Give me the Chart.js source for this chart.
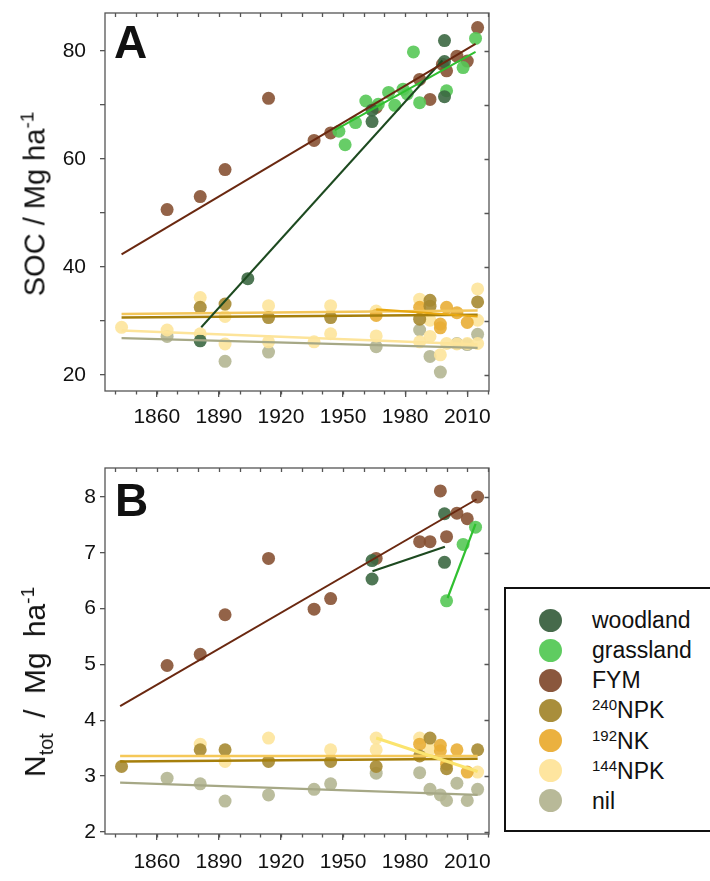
<!DOCTYPE html>
<html><head><meta charset="utf-8">
<script src="https://cdn.jsdelivr.net/npm/chart.js@4.4.1/dist/chart.umd.min.js"></script>
<style>
body{margin:0;background:#fff;width:710px;height:881px;overflow:hidden;position:relative;font-family:"Liberation Sans",Arial,sans-serif;color:#111;}
canvas{position:absolute;left:0;}
#cA{top:0;} #cB{top:440px;}
.ytitle{position:absolute;transform:translate(-50%,-50%) rotate(-90deg);white-space:nowrap;font-size:29px;line-height:1;}
.ytitle sup{font-size:19px;vertical-align:11px;line-height:0;}
.ytitle sub{font-size:20px;vertical-align:-8px;line-height:0;}
#tB{word-spacing:7px;font-size:30px;}
.panel{position:absolute;font-weight:bold;font-size:46px;line-height:1;}
#legend{position:absolute;left:504px;top:587px;width:230px;height:245px;border:2px solid #111;box-sizing:border-box;}
.li{position:absolute;left:0;height:30px;line-height:30px;font-size:23px;width:220px;}
.dot{position:absolute;width:23px;height:23px;border-radius:50%;left:33px;top:3.5px;}
.lt{position:absolute;left:86px;white-space:nowrap;}
.lt sup{font-size:15px;vertical-align:8px;line-height:0;}
</style>
</head><body>
<canvas id="cA" width="500" height="440"></canvas>
<canvas id="cB" width="500" height="441"></canvas>
<div class="panel" style="left:114px;top:19px;">A</div>
<div class="panel" style="left:115px;top:477px;">B</div>
<div class="ytitle" style="left:35px;top:204px;">SOC / Mg ha<sup>-1</sup></div>
<div class="ytitle" id="tB" style="left:35px;top:682px;">N<sub>tot</sub> / Mg ha<sup>-1</sup></div>
<div id="legend"></div>
<script>
// ---------- tick values ----------
const xMajorTicks = [1860, 1890, 1920, 1950, 1980, 2010];
const xMinorTicks = [1840, 1850, 1860, 1870, 1880, 1890, 1900, 1910, 1920, 1930, 1940, 1950, 1960, 1970, 1980, 1990, 2000, 2010, 2020];
const yTicksA = [20, 30, 40, 50, 60, 70, 80];
const yLabelsA = [20, 40, 60, 80];
const yTicksB = [2, 3, 4, 5, 6, 7, 8];

// ---------- legend ----------
const legendSup = ['', '', '', '240', '192', '144', ''];
const legendText = ['woodland', 'grassland', 'FYM', 'NPK', 'NK', 'NPK', 'nil'];
const legendColors = ['#466a4b', '#5fcc60', '#8a573d', '#a98e3b', '#ebb13f', '#fee59f', '#b8b998'];
const pointColors = ['rgba(60,104,66,0.9)', 'rgba(86,200,86,0.9)', 'rgba(135,82,52,0.9)', 'rgba(166,138,50,0.9)', 'rgba(233,174,54,0.9)', 'rgba(253,228,155,0.9)', 'rgba(180,182,146,0.9)'];

// ---------- Panel A : SOC (Mg/ha) ----------
const woodlandA_year = [1881, 1904, 1964, 1964, 1999, 1999, 1999];
const woodlandA_val  = [26.3, 37.8, 66.9, 69.0, 71.5, 78.0, 81.9];
const grasslandA_year = [1948, 1951, 1956, 1961, 1967, 1972, 1975, 1979, 1981, 1984, 1987, 2000, 2008, 2014];
const grasslandA_val  = [65.1, 62.6, 66.7, 70.7, 70.1, 72.3, 69.9, 72.9, 72.0, 79.8, 70.4, 72.6, 76.9, 82.3];
const fymA_year = [1865, 1881, 1893, 1914, 1936, 1944, 1966, 1987, 1992, 1998, 2000, 2005, 2010, 2015];
const fymA_val  = [50.6, 53.0, 58.0, 71.2, 63.4, 64.8, 69.5, 74.7, 71.0, 77.5, 76.3, 79.0, 78.1, 84.3];
const npk240A_year = [1881, 1893, 1914, 1944, 1987, 1992, 1992, 2015];
const npk240A_val  = [32.5, 33.1, 30.6, 30.6, 30.3, 33.8, 32.7, 33.5];
const nk192A_year = [1966, 1987, 1997, 1997, 2000, 2005, 2010];
const nk192A_val  = [31.0, 32.5, 29.4, 28.7, 32.5, 31.5, 29.7];
const npk144A_year = [1843, 1865, 1881, 1881, 1893, 1893, 1914, 1914, 1936, 1944, 1944, 1966, 1966, 1987, 1987, 1992, 1992, 1997, 2000, 2005, 2010, 2015, 2015, 2015];
const npk144A_val  = [28.8, 28.3, 34.3, 27.6, 30.8, 25.7, 32.8, 26.1, 26.1, 32.8, 27.6, 31.8, 27.2, 34.0, 26.1, 30.1, 27.1, 23.7, 25.8, 25.7, 25.8, 35.9, 30.1, 25.8];
const nilA_year = [1865, 1893, 1914, 1966, 1987, 1992, 1997, 2005, 2010, 2015];
const nilA_val  = [27.1, 22.5, 24.2, 25.2, 28.3, 23.4, 20.5, 25.8, 25.6, 27.5];

// regression lines A (start, end)
const fymLineA_year = [1843, 2014];      const fymLineA_val = [42.3, 81.3];
const woodLineA_year = [1881.5, 1998];   const woodLineA_val = [28.8, 78.2];
const grassLineA_year = [1946, 2014];    const grassLineA_val = [65.3, 79.8];
const npk240LineA_year = [1843, 2015];   const npk240LineA_val = [30.6, 31.1];
const nk192LineA_year = [1843, 2015];    const nk192LineA_val = [31.25, 31.9];
const shortLineA_year = [1966, 2015];    const shortLineA_val = [32.1, 30.8];
const npk144LineA_year = [1843, 2015];   const npk144LineA_val = [28.2, 25.6];
const nilLineA_year = [1843, 2015];      const nilLineA_val = [26.8, 25.0];

// ---------- Panel B : N tot (Mg/ha) ----------
const woodlandB_year = [1964, 1964, 1999, 1999];
const woodlandB_val  = [6.86, 6.53, 7.70, 6.83];
const grasslandB_year = [2000, 2008, 2014];
const grasslandB_val  = [6.14, 7.15, 7.46];
const fymB_year = [1865, 1881, 1893, 1914, 1936, 1944, 1966, 1987, 1992, 1997, 2000, 2005, 2010, 2015];
const fymB_val  = [4.98, 5.18, 5.89, 6.90, 5.99, 6.18, 6.90, 7.20, 7.20, 8.11, 7.29, 7.71, 7.61, 8.00];
const npk240B_year = [1843, 1881, 1893, 1914, 1944, 1966, 1987, 1992, 2000, 2015];
const npk240B_val  = [3.17, 3.47, 3.47, 3.26, 3.26, 3.17, 3.36, 3.68, 3.13, 3.47];
const nk192B_year = [1987, 1997, 1997, 2000, 2005, 2010];
const nk192B_val  = [3.57, 3.55, 3.45, 3.21, 3.47, 3.07];
const npk144B_year = [1881, 1893, 1914, 1944, 1966, 1966, 1987, 1992, 2000, 2015];
const npk144B_val  = [3.57, 3.26, 3.68, 3.47, 3.68, 3.47, 3.68, 3.48, 3.26, 3.07];
const nilB_year = [1865, 1881, 1893, 1914, 1936, 1944, 1966, 1987, 1992, 1997, 2000, 2005, 2010, 2015];
const nilB_val  = [2.96, 2.86, 2.55, 2.66, 2.76, 2.86, 3.05, 3.06, 2.76, 2.66, 2.56, 2.87, 2.56, 2.76];

const fymLineB_year = [1842.3, 2014.5];  const fymLineB_val = [4.25, 7.96];
const woodLineB_year = [1964.2, 1999.2]; const woodLineB_val = [6.67, 7.11];
const grassLineB_year = [2000.5, 2014];  const grassLineB_val = [6.19, 7.52];
const npk240LineB_year = [1842.3, 2015]; const npk240LineB_val = [3.26, 3.31];
const nk192LineB_year = [1842.3, 2015];  const nk192LineB_val = [3.36, 3.36];
const shortLineB_year = [1966, 2015];    const shortLineB_val = [3.68, 3.08];
const nilLineB_year = [1842.3, 2015];    const nilLineB_val = [2.88, 2.66];

// ---------- helpers ----------
const pts = (xs, ys) => xs.map((x, i) => ({x: x, y: ys[i]}));
const scat = (xs, ys, ci) => ({type: 'scatter', data: pts(xs, ys), backgroundColor: pointColors[ci], borderWidth: 0, pointRadius: 6.5, order: 2});
const line = (xs, ys, color, w) => ({type: 'line', data: pts(xs, ys), borderColor: color, borderWidth: w, pointRadius: 0, fill: false, order: 1});

// legend
const lg = document.getElementById('legend');
legendText.forEach((t, i) => {
  const row = document.createElement('div');
  row.className = 'li';
  row.style.top = (16 + i * 30.15) + 'px';
  row.innerHTML = '<span class="dot" style="background:' + legendColors[i] + '"></span><span class="lt">' + (legendSup[i] ? '<sup>' + legendSup[i] + '</sup>' : '') + t + '</span>';
  lg.appendChild(row);
});

const FRAME = '#555';
const framePlugin = {
  id: 'frame',
  afterDraw(chart) {
    const {ctx, chartArea: a, scales} = chart;
    const xs = scales.x, ys = scales.y;
    ctx.save();
    ctx.strokeStyle = FRAME;
    ctx.lineWidth = 1.3;
    ctx.strokeRect(a.left, a.top, a.right - a.left, a.bottom - a.top);
    ctx.beginPath();
    xMinorTicks.forEach(v => {
      const px = Math.round(xs.getPixelForValue(v)) + 0.5;
      ctx.moveTo(px, a.bottom); ctx.lineTo(px, a.bottom + 3.5);
      ctx.moveTo(px, a.top); ctx.lineTo(px, a.top + 4);
    });
    ys.ticks.forEach(t => {
      const py = Math.round(ys.getPixelForValue(t.value)) + 0.5;
      ctx.moveTo(a.right, py); ctx.lineTo(a.right - 4.5, py);
    });
    ctx.stroke();
    ctx.restore();
  }
};

const FONT = {family: '"Liberation Sans", Arial, sans-serif', size: 21};

function makeChart(id, datasets, yMin, yMax, yTicks, yLabelFn, yPad, padTop, xHeight, xPad) {
  return new Chart(document.getElementById(id), {
    data: {datasets: datasets},
    options: {
      responsive: false, animation: false, events: [],
      layout: {padding: {left: 0, right: 11, top: padTop, bottom: 0}},
      plugins: {legend: {display: false}, tooltip: {enabled: false}},
      scales: {
        x: {
          type: 'linear', min: 1835, max: 2020.5,
          border: {display: false},
          grid: {drawOnChartArea: false, drawTicks: true, tickLength: 6, color: FRAME, tickColor: FRAME, lineWidth: 1.3},
          ticks: {color: '#111', font: FONT, padding: xPad, maxRotation: 0, autoSkip: false, callback: v => String(v)},
          afterBuildTicks: s => { s.ticks = xMajorTicks.map(v => ({value: v})); },
          afterFit: s => { s.height = xHeight; s.paddingLeft = 0; s.paddingRight = 0; }
        },
        y: {
          type: 'linear', min: yMin, max: yMax,
          border: {display: false},
          grid: {drawOnChartArea: false, drawTicks: true, tickLength: 5, color: FRAME, tickColor: FRAME, lineWidth: 1.3},
          ticks: {color: '#111', font: FONT, padding: yPad, autoSkip: false, callback: yLabelFn},
          afterBuildTicks: s => { s.ticks = yTicks.map(v => ({value: v})); },
          afterFit: s => { s.width = 105; s.paddingTop = 0; s.paddingBottom = 0; }
        }
      }
    },
    plugins: [framePlugin]
  });
}

const dsA = [
  line(fymLineA_year, fymLineA_val, '#6a2810', 2),
  line(woodLineA_year, woodLineA_val, '#1d4a20', 2),
  line(grassLineA_year, grassLineA_val, '#30c030', 2),
  line(shortLineA_year, shortLineA_val, '#e8a810', 2.2),
  line(nk192LineA_year, nk192LineA_val, '#f3c65a', 2.5),
  line(npk240LineA_year, npk240LineA_val, '#a67f0c', 2.5),
  line(npk144LineA_year, npk144LineA_val, '#fde49a', 2.5),
  line(nilLineA_year, nilLineA_val, '#a6a886', 2.2),
  scat(woodlandA_year, woodlandA_val, 0),
  scat(grasslandA_year, grasslandA_val, 1),
  scat(fymA_year, fymA_val, 2),
  scat(npk240A_year, npk240A_val, 3),
  scat(nk192A_year, nk192A_val, 4),
  scat(npk144A_year, npk144A_val, 5),
  scat(nilA_year, nilA_val, 6)
];
const dsB = [
  line(fymLineB_year, fymLineB_val, '#6a2810', 2),
  line(woodLineB_year, woodLineB_val, '#1d4a20', 2.2),
  line(grassLineB_year, grassLineB_val, '#30c030', 2.2),
  line(shortLineB_year, shortLineB_val, '#fbe46e', 3),
  line(nk192LineB_year, nk192LineB_val, '#f5c858', 2.5),
  line(npk240LineB_year, npk240LineB_val, '#a67f0c', 2.5),
  line(nilLineB_year, nilLineB_val, '#a6a886', 2.2),
  scat(woodlandB_year, woodlandB_val, 0),
  scat(grasslandB_year, grasslandB_val, 1),
  scat(fymB_year, fymB_val, 2),
  scat(npk240B_year, npk240B_val, 3),
  scat(nk192B_year, nk192B_val, 4),
  scat(npk144B_year, npk144B_val, 5),
  scat(nilB_year, nilB_val, 6)
];

makeChart('cA', dsA, 17, 87, yTicksA, v => (yLabelsA.includes(v) ? String(v) : ''), 14, 13, 49, 8);
makeChart('cB', dsB, 1.96, 8.52, yTicksB, v => String(v), 4, 28, 47, 10);
</script>
</body></html>
